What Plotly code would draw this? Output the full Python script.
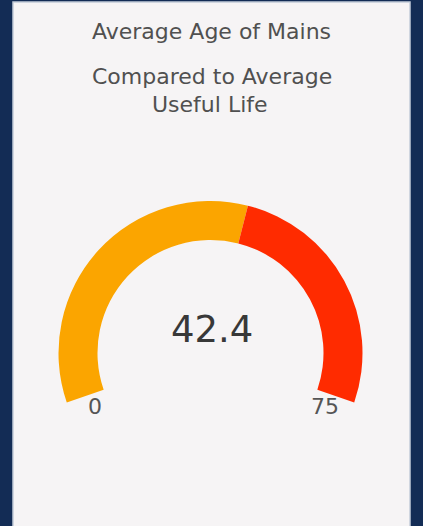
import plotly.graph_objects as go

# ---- data ----
gauge_value = 42.4
gauge_min = 0
gauge_max = 75
title_text = "Average Age of Mains"
subtitle_lines = ["Compared to Average", "Useful Life"]
band_colors = ["#FBA500", "#FF2B00"]

# ---- layout constants ----
W, H = 423, 526
NAVY = "#132C55"
CARD = "#F6F4F5"
FONT = "DejaVu Sans"

def px(x):
    return x / W

def py(y):
    return 1 - y / H

# arc geometry (pixels)
cx, cy = 210.5, 353.0
r_out, r_in = 152.0, 113.0
below = 19.0                  # degrees the arc dips below horizontal on each side
span = 180 + 2 * below        # total sweep of the gauge

gap_value = (gauge_max - gauge_min) * (360 - span) / span
values = [gauge_value - gauge_min, gauge_max - gauge_value, gap_value]
colors = band_colors + ["rgba(0,0,0,0)"]

fig = go.Figure()
fig.add_trace(go.Pie(
    values=values,
    marker=dict(colors=colors, line=dict(width=0)),
    hole=r_in / r_out,
    sort=False,
    direction="clockwise",
    rotation=-(90 + below),
    textinfo="none",
    hoverinfo="skip",
    showlegend=False,
    domain=dict(x=[px(cx - r_out), px(cx + r_out)],
                y=[py(cy + r_out), py(cy - r_out)]),
))

TITLE_FONT = dict(size=22, color="#505050", family=FONT)
annotations = [
    dict(text=title_text, x=px(212), y=py(31.5), font=TITLE_FONT),
    dict(text=subtitle_lines[0], x=px(212), y=py(76.5), font=TITLE_FONT),
    dict(text=subtitle_lines[1], x=px(210), y=py(104.5), font=TITLE_FONT),
    dict(text=f"{gauge_value:g}", x=px(212), y=py(329), font=dict(size=37, color="#383838", family=FONT)),
    dict(text=f"{gauge_min:g}", x=px(94.5), y=py(406.5), font=dict(size=22, color="#555555", family=FONT)),
    dict(text=f"{gauge_max:g}", x=px(324.5), y=py(406.5), font=dict(size=22, color="#555555", family=FONT)),
]
for a in annotations:
    a.update(xref="paper", yref="paper", xanchor="center", yanchor="middle", showarrow=False)

fig.update_layout(
    width=W, height=H,
    margin=dict(l=0, r=0, t=0, b=0),
    paper_bgcolor=NAVY,
    plot_bgcolor=NAVY,
    annotations=annotations,
    shapes=[dict(type="rect", xref="paper", yref="paper",
                 x0=px(13), x1=px(410), y0=py(H + 5), y1=py(2),
                 fillcolor=CARD, line=dict(color="#C3CCD9", width=1.5), layer="below")],
)

fig.write_html(
    "out.html",
    config={"displayModeBar": False},
    post_script="document.body.style.margin='0';document.body.style.padding='0';"
                "document.body.style.overflow='hidden';document.body.style.background='" + NAVY + "';",
)
